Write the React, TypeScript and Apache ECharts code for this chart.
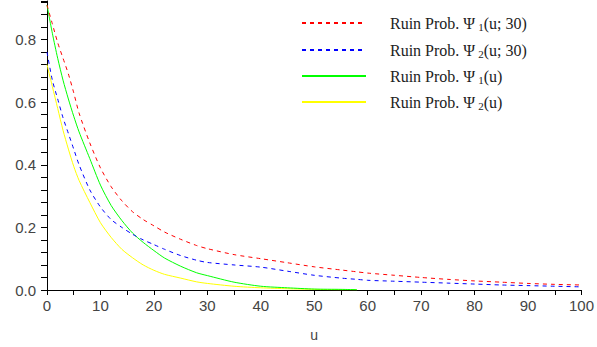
import React, { useEffect, useRef } from "react";
import * as echarts from "echarts";

const uValues = [0, 1, 2, 3, 4, 5, 6, 8, 10, 12, 14, 16, 18, 20, 22, 25, 28, 30, 35, 40, 45, 50, 55, 58, 60, 65, 70, 75, 80, 85, 90, 95, 100];

const psi1T = [0.91, 0.85, 0.79, 0.74, 0.69, 0.63, 0.565, 0.47, 0.39, 0.33, 0.285, 0.25, 0.225, 0.205, 0.185, 0.162, 0.142, 0.132, 0.113, 0.1, 0.087, 0.074, 0.064, 0.058, 0.054, 0.047, 0.04, 0.034, 0.029, 0.025, 0.021, 0.018, 0.016];
const psi2T = [0.76, 0.67, 0.61, 0.55, 0.5, 0.45, 0.4, 0.32, 0.265, 0.225, 0.2, 0.178, 0.16, 0.145, 0.13, 0.11, 0.095, 0.088, 0.08, 0.073, 0.06, 0.047, 0.038, 0.034, 0.031, 0.028, 0.025, 0.022, 0.019, 0.016, 0.014, 0.012, 0.01];
const psi1 = [0.91, 0.82, 0.74, 0.67, 0.61, 0.555, 0.505, 0.42, 0.335, 0.27, 0.222, 0.182, 0.152, 0.126, 0.102, 0.076, 0.055, 0.046, 0.025, 0.012, 0.007, 0.003, 0.002, 0.001];
const psi2 = [0.72, 0.65, 0.58, 0.51, 0.45, 0.395, 0.35, 0.28, 0.215, 0.168, 0.13, 0.103, 0.08, 0.063, 0.05, 0.038, 0.026, 0.021, 0.012, 0.007, 0.004, 0.002, 0.001, 0.001];

const seriesNames = ["Ruin Prob. Ψ1(u; 30)", "Ruin Prob. Ψ2(u; 30)", "Ruin Prob. Ψ1(u)", "Ruin Prob. Ψ2(u)"];
const seriesValues = [psi1T, psi2T, psi1, psi2];
const seriesColors = ["#ff0000", "#0000ff", "#00ff00", "#ffff00"];
const dashed = [true, true, false, false];
const legendTops = [14, 41, 67, 93];

export default function App() {
  const ref = useRef<HTMLDivElement>(null);
  useEffect(() => {
    if (!ref.current) return;
    const chart = echarts.init(ref.current, null, { renderer: "svg" });
    const series = seriesNames.map((name, i) => ({
      name,
      type: "line",
      data: seriesValues[i].map((v, j) => [uValues[j], v]),
      showSymbol: false,
      symbol: "none",
      smooth: 0.25,
      lineStyle: { color: seriesColors[i], width: 1, type: dashed[i] ? [4, 4] : "solid" },
      itemStyle: { color: seriesColors[i] },
      z: 10 - i,
    }));
    const legends = seriesNames.map((name, i) => ({
      data: [name],
      orient: "vertical",
      left: 301,
      top: legendTops[i],
      padding: 0,
      itemWidth: 64,
      itemHeight: 14,
      itemGap: 0,
      itemStyle: { opacity: 0, borderWidth: 0 },
      formatter: (n: string) => n.replace(/Ψ(\d)/, "Ψ{sub|$1}"),
      textStyle: {
        fontFamily: "Liberation Serif",
        fontSize: 16,
        lineHeight: 18,
        color: "#222",
        padding: [0, 0, 0, 19],
        rich: {
          sub: {
            fontFamily: "Liberation Serif",
            fontSize: 11,
            lineHeight: 11,
            verticalAlign: "bottom",
            color: "#222",
            padding: [0, 0, 0, 3],
          },
        },
      },
      selectedMode: false,
    }));
    chart.setOption({
      animation: false,
      backgroundColor: "#fff",
      legend: legends,
      grid: { left: 47, right: 12, top: 1, bottom: 52, containLabel: false },
      xAxis: {
        type: "value",
        min: 0,
        max: 100,
        interval: 10,
        name: "u",
        nameLocation: "middle",
        nameGap: 38,
        nameTextStyle: { fontFamily: "Liberation Sans", fontSize: 14, color: "#444" },
        axisLine: { show: true, onZero: false, lineStyle: { color: "#000", width: 1 } },
        axisTick: { show: true, length: 5, lineStyle: { color: "#000" } },
        minorTick: { show: true, splitNumber: 2, length: 5, lineStyle: { color: "#000" } },
        axisLabel: { fontFamily: "Liberation Sans", fontSize: 15, color: "#444", margin: 8 },
        splitLine: { show: false },
      },
      yAxis: {
        type: "value",
        min: 0,
        max: 0.923,
        interval: 0.2,
        axisLine: { show: true, onZero: false, lineStyle: { color: "#000", width: 1 } },
        axisTick: { show: true, length: 6, lineStyle: { color: "#000" } },
        minorTick: { show: true, splitNumber: 5, length: 6, lineStyle: { color: "#000" } },
        axisLabel: {
          fontFamily: "Liberation Sans",
          fontSize: 15,
          color: "#444",
          margin: 11,
          showMaxLabel: false,
          formatter: (v: number) => v.toFixed(1),
        },
        splitLine: { show: false },
      },
      series,
    });
    return () => chart.dispose();
  }, []);
  return (
    <div
      ref={ref}
      style={{ position: "fixed", left: 0, top: 0, width: 597, height: 347 }}
    />
  );
}
